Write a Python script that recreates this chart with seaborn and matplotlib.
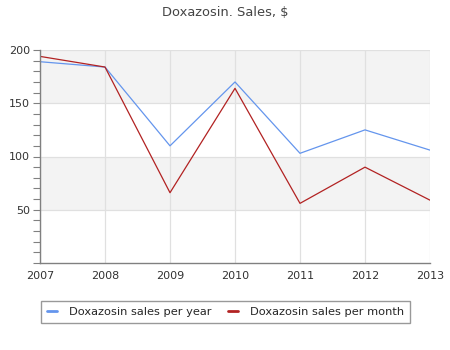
import matplotlib
matplotlib.use("Agg")
import matplotlib.pyplot as plt
from matplotlib.ticker import MultipleLocator
import pandas as pd
import seaborn as sns

years = [2007, 2008, 2009, 2010, 2011, 2012, 2013]
sales_per_year = [189, 184, 110, 170, 103, 125, 106]
sales_per_month = [194, 184, 66, 164, 56, 90, 59]
series_names = ["Doxazosin sales per year", "Doxazosin sales per month"]
title = "Doxazosin. Sales, $"

df = pd.DataFrame({
    "year": years * 2,
    "value": sales_per_year + sales_per_month,
    "series": [series_names[0]] * len(years) + [series_names[1]] * len(years),
})

sns.set_theme(style="white")
plt.rcParams["font.family"] = ["DejaVu Sans"]

fig = plt.figure(figsize=(4.5, 3.5), dpi=100)
ax = fig.add_axes([40 / 450, 87 / 350, 390 / 450, 213 / 350])

# alternating horizontal bands
for lo, hi in [(50, 100), (150, 200)]:
    ax.axhspan(lo, hi, color="#f3f3f3", zorder=0, lw=0)

sns.lineplot(
    data=df, x="year", y="value", hue="series",
    palette=["#6495ED", "#B22222"], linewidth=0.9, ax=ax, legend=False,
    zorder=3,
)

ax.set_xlim(2007, 2013)
ax.set_ylim(0, 200)
ax.set_xticks(years)
ax.set_xticklabels([str(y) for y in years])
ax.set_yticks([50, 100, 150, 200])
ax.yaxis.set_minor_locator(MultipleLocator(10))
ax.set_xlabel("")
ax.set_ylabel("")

ax.set_axisbelow("line")
ax.grid(True, which="major", color="#e0e0e0", linewidth=0.9)

for side in ["top", "right"]:
    ax.spines[side].set_visible(False)
for side in ["left", "bottom"]:
    ax.spines[side].set_color("#808080")
    ax.spines[side].set_linewidth(1.0)
    ax.spines[side].set_zorder(4)

ax.tick_params(axis="y", which="both", direction="out", length=5, width=0.8,
               color="#808080", left=True, labelsize=8, labelcolor="#333333", pad=2)
ax.tick_params(axis="x", which="both", length=0, labelsize=8,
               labelcolor="#333333", pad=6)

fig.text(0.5, 1 - 12.5 / 350, title, ha="center", va="center",
         fontsize=9.4, color="#444444")

handles = [
    plt.Line2D([], [], color="#6495ED", lw=2),
    plt.Line2D([], [], color="#B22222", lw=2),
]
leg = fig.legend(handles, series_names, loc="center",
                 bbox_to_anchor=(225.5 / 450, 1 - 312 / 350), ncol=2,
                 frameon=True, fancybox=False, fontsize=8.2,
                 handlelength=0.9, handletextpad=1.0, columnspacing=1.5,
                 borderpad=0.5)
leg.get_frame().set_edgecolor("#808080")
leg.get_frame().set_linewidth(1.0)

fig.savefig("out.png", dpi=100)
